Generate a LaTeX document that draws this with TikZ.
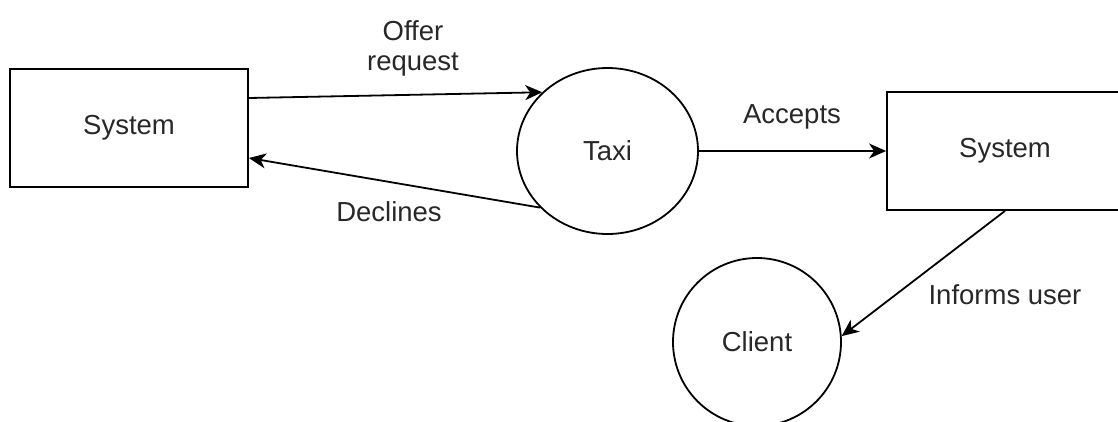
\documentclass[tikz,border=0pt]{standalone}
\usepackage{fontspec}
\setmainfont{Liberation Sans}
\usetikzlibrary{shapes.geometric,arrows.meta}
\definecolor{txt}{RGB}{40,40,40}
\tikzset{
  every node/.style={font=\fontsize{27.5}{30}\selectfont, text=txt},
  box/.style={draw=black, line width=1.8pt, minimum width=238pt, minimum height=118pt, inner sep=0pt},
  proc/.style={draw=black, line width=1.8pt, ellipse, inner sep=0pt},
  flow/.style={draw=black, line width=1.8pt, -{Stealth[length=17pt,width=15pt,inset=5pt]}},
  lbl/.style={align=center, inner sep=0pt}
}
\begin{document}
\begin{tikzpicture}[x=1pt,y=-1pt]
\useasboundingbox (0,0) rectangle (1118,421);
\clip (0,0) rectangle (1118,421);
\fill[white] (0,0) rectangle (1118,421);
\node[box] (sys1) at (129,128) {System};
\node[box, minimum width=236pt] (sys2) at (1005,151) {System};
\node[proc, minimum width=181pt, minimum height=166pt] (taxi) at (607.5,151) {Taxi};
\node[proc, minimum width=168pt, minimum height=168pt] (client) at (757,342) {Client};
\draw[flow] ([yshift=30pt]sys1.east) -- (taxi.138);
\draw[flow] (taxi.220) -- ([yshift=-30pt]sys1.east);
\draw[flow] (taxi.east) -- (sys2.west);
\draw[flow] (sys2.south) -- (client.4);
\node[lbl] (offer) at (413,48) {Offer\\request};
\node[lbl] (decl) at (389,212) {Declines};
\node[lbl] (acc) at (792,117) {Accepts};
\node[lbl] (inf) at (1005,295) {Informs user};
\end{tikzpicture}
\end{document}
